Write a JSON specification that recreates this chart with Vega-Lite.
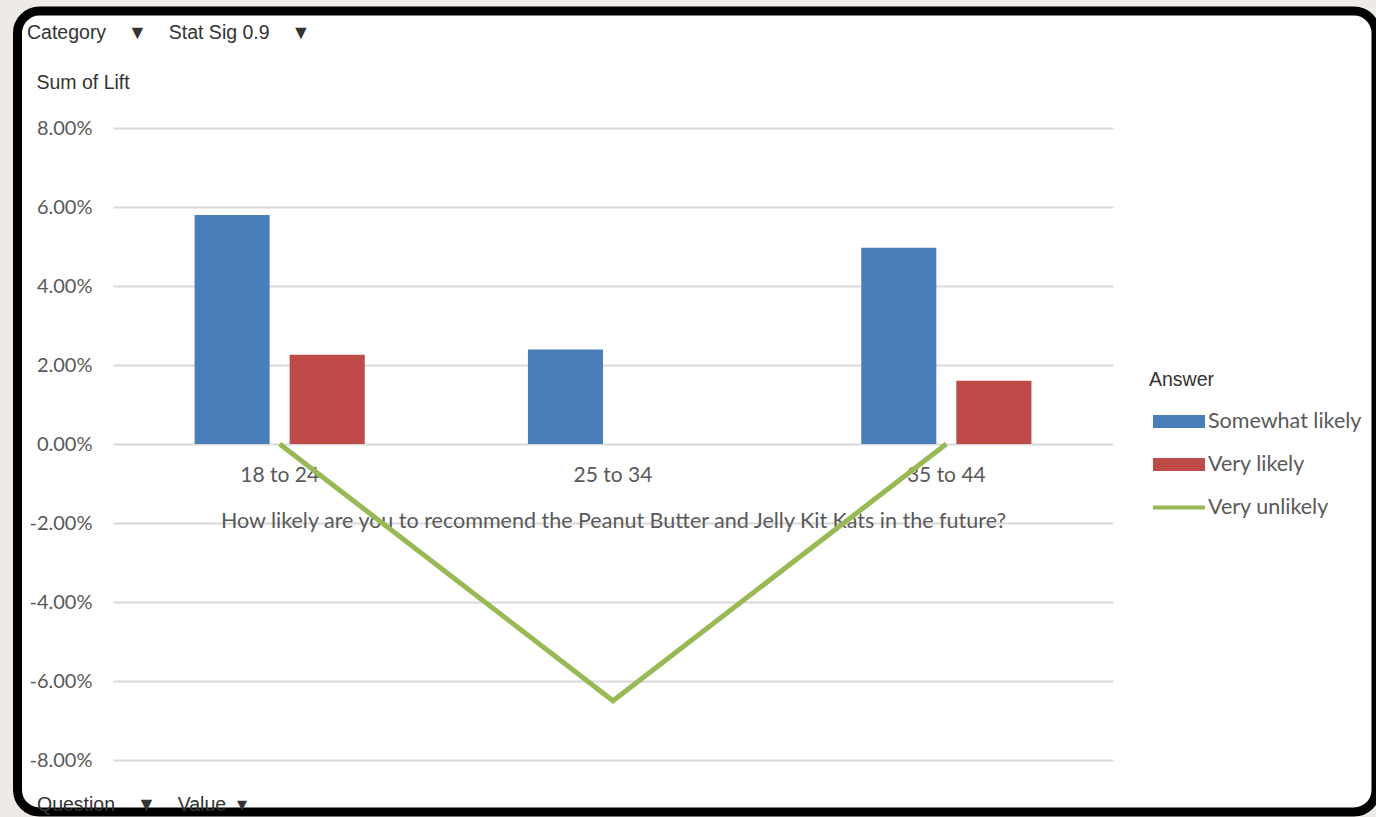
{
  "$schema": "https://vega.github.io/schema/vega-lite/v6.json",
  "width": 1358.5,
  "height": 801,
  "autosize": {"type": "none"},
  "padding": {"left": 17.5, "top": 11, "right": 0, "bottom": 5},
  "background": "#eeebe7",
  "config": {
    "view": {"fill": "#ffffff", "stroke": "#000000", "strokeWidth": 9, "cornerRadius": 22},
    "font": "Lato"
  },
  "title": {
    "text": "Question\u00a0\u00a0\u00a0\u00a0\u25bc\u00a0\u00a0\u00a0\u00a0Value\u00a0\u00a0\u25be",
    "orient": "bottom",
    "anchor": "start",
    "frame": "group",
    "dx": 19.5,
    "offset": -7,
    "baseline": "middle",
    "font": "Liberation Sans",
    "fontSize": 19.5,
    "fontWeight": "normal",
    "color": "#333333"
  },
  "data": {
    "values": [
      {"Age": "18 to 24", "Answer": "Somewhat likely", "Lift": 0.058},
      {"Age": "18 to 24", "Answer": "Very likely", "Lift": 0.0226},
      {"Age": "25 to 34", "Answer": "Somewhat likely", "Lift": 0.0239},
      {"Age": "35 to 44", "Answer": "Somewhat likely", "Lift": 0.0497},
      {"Age": "35 to 44", "Answer": "Very likely", "Lift": 0.016},
      {"Age": "18 to 24", "Answer": "Very unlikely", "Lift": 0},
      {"Age": "25 to 34", "Answer": "Very unlikely", "Lift": -0.065},
      {"Age": "35 to 44", "Answer": "Very unlikely", "Lift": 0}
    ]
  },
  "encoding": {
    "y": {
      "field": "Lift",
      "type": "quantitative",
      "scale": {"domain": [-0.08, 0.08], "range": [749, 117], "nice": false, "zero": false},
      "axis": {
        "values": [-0.08, -0.06, -0.04, -0.02, 0, 0.02, 0.04, 0.06, 0.08],
        "format": ".2%",
        "labelExpr": "replace(datum.label, '\u2212', '-')",
        "offset": -74.5,
        "domain": false,
        "ticks": false,
        "tickSize": 0,
        "labelPadding": 0,
        "labelFontSize": 20,
        "labelColor": "#595959",
        "labelFont": "Lato",
        "labelBaseline": "middle",
        "grid": true,
        "gridColor": "#d9d9d9",
        "gridWidth": 2,
        "title": "Sum of Lift",
        "titleAngle": 0,
        "titleAlign": "left",
        "titleBaseline": "middle",
        "titleX": -56,
        "titleY": 71,
        "titleFont": "Liberation Sans",
        "titleFontSize": 19.5,
        "titleFontWeight": "normal",
        "titleColor": "#333333"
      }
    },
    "color": {
      "field": "Answer",
      "type": "nominal",
      "scale": {
        "domain": ["Somewhat likely", "Very likely", "Very unlikely"],
        "range": ["#4a7ebb", "#be4b48", "#98b954"]
      },
      "legend": {
        "orient": "none",
        "legendX": 1131.5,
        "legendY": 360,
        "padding": 0,
        "title": "Answer",
        "titleFont": "Liberation Sans",
        "titleFontSize": 19.5,
        "titleFontWeight": "normal",
        "titleColor": "#333333",
        "titlePadding": 5,
        "labelFont": "Lato",
        "labelFontSize": 21.5,
        "labelColor": "#595959",
        "labelOffset": 3,
        "symbolOffset": 4,
        "symbolType": "M-1,-0.25H1V0.25H-1Z",
        "symbolSize": 2704,
        "rowPadding": 6,
        "encode": {
          "symbols": {
            "update": {
              "shape": {"signal": "datum.value === 'Very unlikely' ? 'M-1,-0.08H1V0.08H-1Z' : 'M-1,-0.25H1V0.25H-1Z'"},
              "fill": {"scale": "color", "field": "value"},
              "stroke": {"value": "transparent"},
              "strokeWidth": {"value": 0},
              "opacity": {"value": 1}
            }
          }
        }
      }
    }
  },
  "layer": [
    {
      "transform": [{"filter": "datum.Answer !== 'Very unlikely'"}],
      "mark": {"type": "bar"},
      "encoding": {
        "x": {
          "field": "Age",
          "type": "nominal",
          "scale": {"range": [95.5, 1095.5], "paddingInner": 0, "paddingOuter": 0},
          "axis": {
            "orient": "bottom",
            "offset": -368,
            "domain": false,
            "ticks": false,
            "tickSize": 0,
            "grid": false,
            "labelAngle": 0,
            "labelPadding": 31,
            "labelBaseline": "middle",
            "labelFont": "Lato",
            "labelFontSize": 21,
            "labelColor": "#595959",
            "title": "How likely are you to recommend the Peanut Butter and Jelly Kit Kats in the future?",
            "titleFont": "Lato",
            "titleFontSize": 21.5,
            "titleFontWeight": "normal",
            "titleColor": "#595959",
            "titleBaseline": "middle",
            "titleY": 77
          }
        },
        "xOffset": {
          "field": "Answer",
          "type": "nominal",
          "scale": {"domain": ["Somewhat likely", "Very likely"], "paddingInner": 0.2105, "paddingOuter": 0.858}
        }
      }
    },
    {
      "transform": [{"filter": "datum.Answer === 'Very unlikely'"}],
      "mark": {"type": "line", "strokeWidth": 5},
      "encoding": {
        "x": {
          "field": "Age",
          "type": "nominal",
          "axis": {
            "orient": "top",
            "labels": false,
            "ticks": false,
            "domain": false,
            "grid": false,
            "title": "Category\u00a0\u00a0\u00a0\u00a0\u25bc\u00a0\u00a0\u00a0\u00a0Stat Sig 0.9\u00a0\u00a0\u00a0\u00a0\u25bc",
            "titleX": 9,
            "titleY": 21,
            "titleAlign": "left",
            "titleBaseline": "middle",
            "titleFont": "Liberation Sans",
            "titleFontSize": 19.5,
            "titleFontWeight": "normal",
            "titleColor": "#333333"
          }
        }
      }
    }
  ],
  "resolve": {"axis": {"x": "independent"}}
}
